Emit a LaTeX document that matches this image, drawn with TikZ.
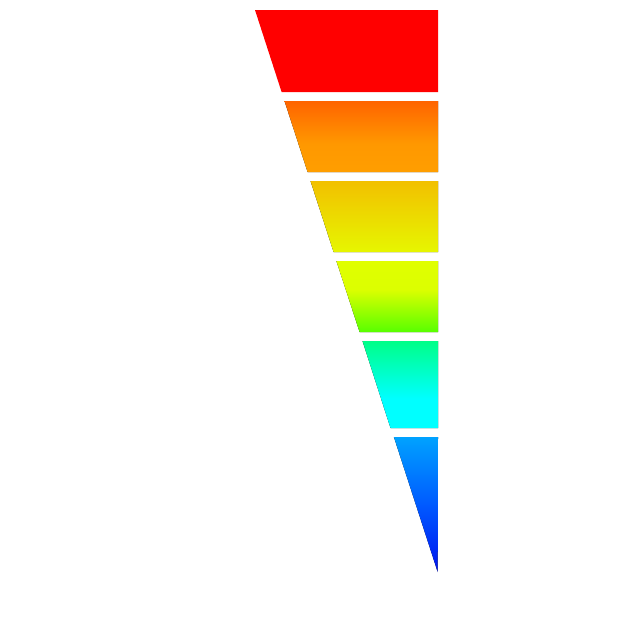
\documentclass[tikz,border=0pt]{standalone}
\usetikzlibrary{shadings}
\definecolor{cRed}{RGB}{255,0,0}
\definecolor{cOrA}{RGB}{255,100,0}
\definecolor{cOrB}{RGB}{255,152,0}
\definecolor{cOrC}{RGB}{255,158,0}
\definecolor{cYeA}{RGB}{242,192,0}
\definecolor{cYeB}{RGB}{230,246,0}
\definecolor{cLiA}{RGB}{224,255,0}
\definecolor{cLiB}{RGB}{220,255,0}
\definecolor{cLiC}{RGB}{88,255,0}
\definecolor{cCyA}{RGB}{0,255,136}
\definecolor{cCyB}{RGB}{0,255,255}
\definecolor{cBlA}{RGB}{0,162,255}
\definecolor{cBlB}{RGB}{0,90,255}
\definecolor{cBlC}{RGB}{0,20,240}
\pgfdeclareverticalshading{shOrange}{100bp}{color(0bp)=(cOrC); color(25bp)=(cOrC); color(45bp)=(cOrB); color(75bp)=(cOrA); color(100bp)=(cOrA)}
\pgfdeclareverticalshading{shYellow}{100bp}{color(0bp)=(cYeB); color(25bp)=(cYeB); color(75bp)=(cYeA); color(100bp)=(cYeA)}
\pgfdeclareverticalshading{shLime}{100bp}{color(0bp)=(cLiC); color(25bp)=(cLiC); color(55bp)=(cLiB); color(75bp)=(cLiA); color(100bp)=(cLiA)}
\pgfdeclareverticalshading{shCyan}{100bp}{color(0bp)=(cCyB); color(25bp)=(cCyB); color(42bp)=(cCyB); color(75bp)=(cCyA); color(100bp)=(cCyA)}
\pgfdeclareverticalshading{shBlue}{100bp}{color(0bp)=(cBlC); color(25bp)=(cBlC); color(50bp)=(cBlB); color(75bp)=(cBlA); color(100bp)=(cBlA)}
\tikzset{band/.style={draw=none}}
\begin{document}
\begin{tikzpicture}[x=1pt,y=-1pt]
\useasboundingbox (0,0) rectangle (640,640);
% left edge x(y) = 255 + (y-10)*182.5/562
\fill[band,cRed] (255,10) -- (438,10) -- (438,92) -- (281.6,92) -- cycle;
\fill[band,shading=shOrange] (284.5,101) -- (438,101) -- (438,172) -- (307.6,172) -- cycle;
\fill[band,shading=shYellow] (310.5,181) -- (438,181) -- (438,252) -- (333.6,252) -- cycle;
\fill[band,shading=shLime] (336.4,261) -- (438,261) -- (438,332) -- (359.6,332) -- cycle;
\fill[band,shading=shCyan] (362.5,341) -- (438,341) -- (438,428) -- (390.5,428) -- cycle;
\fill[band,shading=shBlue] (393.9,437) -- (438,437) -- (437.7,572) -- cycle;
\end{tikzpicture}
\end{document}
